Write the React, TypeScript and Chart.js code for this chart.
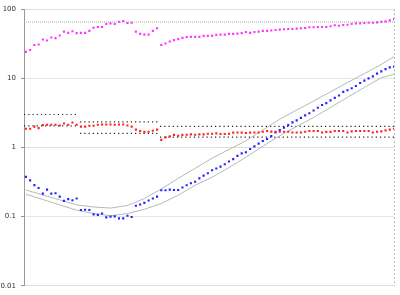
import React, { useEffect, useRef } from 'react';
import { Chart, registerables } from 'chart.js';

Chart.register(...registerables);

const magenta = [
  24.1, 25.7, 30.3, 30.9, 36.4, 35.2, 38.9, 38.1, 41.6, 47.4, 45.4, 48.0, 45.0, 45.4, 45.4, 48.5,
  54.0, 55.3, 55.3, 61.1, 62.5, 61.1, 65.9, 67.4, 63.1, 63.7, 47.4, 43.9, 42.9, 42.9, 48.5, 53.0,
  30.3, 31.9, 34.1, 35.7, 36.9, 38.5, 39.4, 39.8, 39.8, 39.8, 41.1, 41.1, 41.1, 42.5, 42.9, 42.9,
  43.9, 43.9, 44.4, 45.0, 46.9, 45.4, 46.9, 47.4, 48.5, 48.5, 49.3, 50.1, 50.6, 51.3, 51.8, 51.8,
  52.3, 53.0, 53.5, 54.8, 54.8, 55.3, 55.3, 55.3, 56.6, 58.5, 57.7, 59.1, 59.7, 61.1, 62.5, 62.5,
  63.1, 63.7, 63.7, 64.6, 65.9, 66.7, 69.0, 72.0,
];

const red = [
  1.87, 1.87, 2.0, 1.91, 2.11, 2.13, 2.13, 2.13, 2.08, 2.22, 2.13, 2.30, 2.13, 2.0, 2.0, 2.06,
  2.06, 2.13, 2.15, 2.15, 2.15, 2.13, 2.15, 2.15, 2.08, 2.0, 1.81, 1.73, 1.68, 1.69, 1.75, 1.81,
  1.29, 1.40, 1.45, 1.52, 1.48, 1.52, 1.53, 1.55, 1.53, 1.55, 1.55, 1.58, 1.58, 1.60, 1.57, 1.57,
  1.58, 1.64, 1.65, 1.64, 1.62, 1.64, 1.65, 1.65, 1.69, 1.73, 1.70, 1.69, 1.69, 1.69, 1.69, 1.65,
  1.65, 1.65, 1.69, 1.73, 1.73, 1.73, 1.65, 1.68, 1.68, 1.73, 1.73, 1.73, 1.65, 1.71, 1.73, 1.73,
  1.73, 1.73, 1.65, 1.69, 1.71, 1.77, 1.81, 1.87,
];

const blue = [
  0.376, 0.334, 0.286, 0.260, 0.215, 0.246, 0.215, 0.218, 0.195, 0.169, 0.179, 0.173, 0.183, 0.125, 0.126, 0.125,
  0.108, 0.106, 0.111, 0.0977, 0.100, 0.101, 0.0946, 0.0946, 0.103, 0.099, 0.144, 0.150, 0.158, 0.171, 0.183, 0.195,
  0.241, 0.241, 0.246, 0.243, 0.243, 0.264, 0.284, 0.304, 0.319, 0.358, 0.392, 0.425, 0.469, 0.496, 0.530, 0.572,
  0.627, 0.678, 0.756, 0.821, 0.854, 0.952, 1.04, 1.14, 1.24, 1.33, 1.46, 1.65, 1.79, 1.94, 2.11, 2.31,
  2.47, 2.68, 2.91, 3.13, 3.43, 3.75, 4.11, 4.39, 4.80, 5.23, 5.66, 6.37, 6.74, 7.20, 7.76, 8.57,
  9.27, 10.0, 10.7, 11.7, 12.6, 13.6, 14.4, 14.7,
];

const bandX = [0, 4, 8, 12, 16, 20, 24, 28, 32, 36, 40, 44, 48, 52, 56, 60, 64, 68, 72, 76, 80, 84, 87];
const bandUpper = [0.243, 0.206, 0.175, 0.148, 0.138, 0.133, 0.145, 0.183, 0.251, 0.359, 0.50, 0.70, 0.937, 1.25, 1.79, 2.57, 3.48, 4.69, 6.41, 8.7, 11.7, 15.9, 20.6];
const bandLower = [0.211, 0.177, 0.148, 0.124, 0.111, 0.103, 0.111, 0.128, 0.155, 0.204, 0.285, 0.372, 0.513, 0.724, 1.04, 1.48, 2.01, 2.72, 3.80, 5.31, 7.41, 10.2, 11.5];

const topRefValue = 65.2;
const refSegStart = [-0.45, 12.8, 31.7];
const refSegEnd = [12.3, 31.2, 87];
const refHigh = [3.0, 2.35, 2.02];
const refLow = [2.05, 1.6, 1.41];

const xMin = -0.45;
const xMax = 87;
const yTicks = [0.01, 0.1, 1, 10, 100];
const yTickLabels = ['0.01', '0.1', '1', '10', '100'];

export default function App() {
  const ref = useRef<HTMLCanvasElement | null>(null);

  useEffect(() => {
    if (!ref.current) return;
    const pts = (arr: number[]) => arr.map((v, i) => ({ x: i, y: v }));
    const pointDs = (label: string, arr: number[], color: string) => ({
      label,
      data: pts(arr),
      showLine: false,
      pointStyle: 'rect',
      pointRadius: 1.5,
      pointBackgroundColor: color,
      pointBorderWidth: 0,
      borderColor: color,
      order: 0,
    });
    const lineDs = (label: string, data: { x: number; y: number }[], color: string, width: number, dash: number[]) => ({
      label,
      data,
      showLine: true,
      pointRadius: 0,
      borderColor: color,
      borderWidth: width,
      borderDash: dash,
      fill: false,
      tension: 0,
      order: 1,
    });

    const datasets: any[] = [
      pointDs('magenta', magenta, '#ff33ff'),
      pointDs('red', red, '#ff2222'),
      pointDs('blue', blue, '#2222ff'),
      lineDs('upper', bandX.map((x, i) => ({ x, y: bandUpper[i] })), '#b8b8b8', 1, []),
      lineDs('lower', bandX.map((x, i) => ({ x, y: bandLower[i] })), '#b8b8b8', 1, []),
      lineDs('top', [{ x: xMin, y: topRefValue }, { x: xMax, y: topRefValue }], '#aaaaaa', 1, [1, 1]),
    ];
    refSegStart.forEach((s, i) => {
      datasets.push(lineDs('hi' + i, [{ x: s, y: refHigh[i] }, { x: refSegEnd[i], y: refHigh[i] }], '#222222', 1.2, [1.2, 3.03]));
      datasets.push(lineDs('lo' + i, [{ x: s, y: refLow[i] }, { x: refSegEnd[i], y: refLow[i] }], '#222222', 1.2, [1.2, 3.03]));
    });

    const chart = new Chart(ref.current, {
      type: 'scatter',
      data: { datasets },
      options: {
        animation: false,
        responsive: false,
        maintainAspectRatio: false,
        events: [],
        layout: { padding: { left: 0, top: 7, right: 6, bottom: 8 } },
        plugins: { legend: { display: false }, tooltip: { enabled: false } },
        scales: {
          x: {
            type: 'linear',
            min: xMin,
            max: xMax,
            afterBuildTicks: (scale: any) => {
              scale.ticks = [{ value: xMax }];
            },
            afterFit: (scale: any) => {
              scale.height = 0;
            },
            ticks: { display: false },
            grid: { color: '#bbbbbb', drawTicks: false, lineWidth: 1 },
            border: { display: false, dash: [2, 2] },
          },
          y: {
            type: 'logarithmic',
            min: 0.01,
            max: 100,
            afterBuildTicks: (scale: any) => {
              scale.ticks = yTicks.map((v) => ({ value: v }));
            },
            afterFit: (scale: any) => {
              scale.width = 24;
            },
            ticks: {
              callback: (_v: any, i: number) => yTickLabels[i],
              color: '#333333',
              font: { family: 'DejaVu Sans', size: 7 },
              padding: 5,
            },
            grid: {
              color: (ctx: any) => (ctx.tick && (ctx.tick.value === 10 || ctx.tick.value === 0.1) ? '#e6e6e6' : '#dddddd'),
              tickLength: 3,
              tickColor: '#999999',
            },
            border: { display: true, color: '#999999', width: 1 },
          },
        },
      },
    });
    return () => chart.destroy();
  }, []);

  return (
    <div style={{ position: 'fixed', left: 0, top: 0, width: 400, height: 295, background: '#fff' }}>
      <canvas ref={ref} width={400} height={295} style={{ width: 400, height: 295, display: 'block' }} />
    </div>
  );
}
